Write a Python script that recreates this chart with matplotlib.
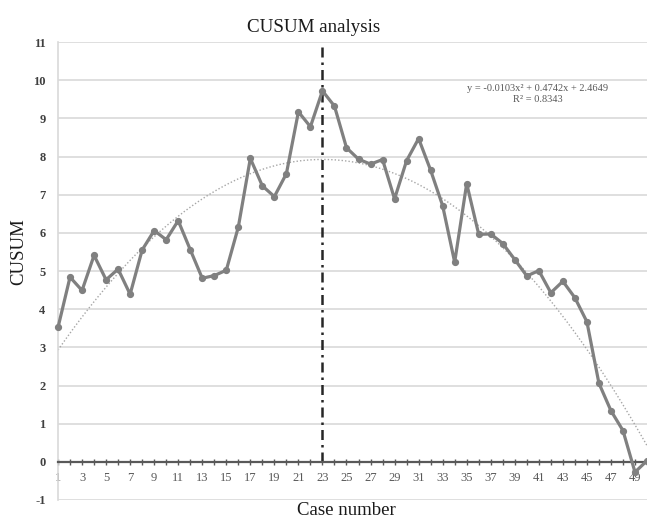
import matplotlib
matplotlib.use('Agg')
import matplotlib.pyplot as plt
import numpy as np

plt.rcParams['font.family'] = ['Liberation Serif', 'DejaVu Serif']
plt.rcParams['axes.unicode_minus'] = False

# CUSUM values for cases 1..50
cases = np.arange(1, 51)
cusum = [3.52, 4.84, 4.49, 5.41, 4.77, 5.05, 4.39, 5.55, 6.06, 5.82,
         6.32, 5.56, 4.81, 4.88, 5.02, 6.15, 7.95, 7.23, 6.95, 7.55,
         9.17, 8.78, 9.72, 9.32, 8.23, 7.93, 7.80, 7.92, 6.89, 7.89,
         8.47, 7.64, 6.71, 5.23, 7.29, 5.96, 5.97, 5.72, 5.30, 4.87,
         5.01, 4.43, 4.73, 4.30, 3.67, 2.06, 1.34, 0.82, -0.27, 0.03]

# polynomial trendline shown on the chart
trend_coef = [-0.0103, 0.4742, 2.4649]
trend_label = 'y = -0.0103x² + 0.4742x + 2.4649\nR² = 0.8343'
split_case = 23

fig = plt.figure(figsize=(6.47, 5.2), dpi=100)
ax = fig.add_axes([58 / 647, 1 - 500 / 520, 1 - 58 / 647, (500 - 42) / 520])

ax.set_xlim(1, 50)
ax.set_ylim(-1, 11)

# horizontal gridlines
ax.set_yticks(range(-1, 12))
ax.yaxis.grid(True, color='#d9d9d9', lw=1.2)
ax.set_axisbelow(True)

# trendline
xt = np.linspace(1, 50, 300)
ax.plot(xt, np.polyval(trend_coef, xt), ls=(0, (1, 1.5)), color='#a6a6a6', lw=1.0)

# vertical split line
ax.plot([split_case, split_case], [0, 11], color='#262626', lw=1.8,
        ls=(0, (4, 2, 1, 2)))

# CUSUM series
ax.plot(cases, cusum, color='#808080', lw=2.3, marker='o', ms=4.2,
        clip_on=False, zorder=5)

ax.text(40.9, 9.64, trend_label, ha='center', va='center', fontsize=7.5,
        color='#595959', multialignment='center')

# spines
for s in ['top', 'right']:
    ax.spines[s].set_visible(False)
ax.spines['left'].set_color('#d9d9d9')
ax.spines['left'].set_linewidth(1.2)
ax.spines['bottom'].set_position(('data', 0))
ax.spines['bottom'].set_color('#595959')
ax.spines['bottom'].set_linewidth(1.6)

ax.set_xticks(cases)
ax.set_xticklabels([str(c) if c % 2 == 1 and c < 50 else '' for c in cases])
ax.tick_params(axis='x', direction='inout', length=5, width=1.0,
               color='#595959', pad=5, labelsize=9, labelcolor='#595959')
ax.tick_params(axis='y', length=0, pad=9, labelsize=9, labelcolor='#404040')
for t in ax.get_yticklabels():
    t.set_fontweight('bold')

fig.text(314 / 647, 1 - 31.5 / 520, 'CUSUM analysis', ha='center',
         va='baseline', fontsize=13.7, color='#1a1a1a')
fig.text(346 / 647, 1 - 515 / 520, 'Case number', ha='center',
         va='baseline', fontsize=13.5, color='#1a1a1a')
fig.text(19 / 647, 1 - 251.5 / 520, 'CUSUM', ha='center', va='center',
         rotation=90, fontsize=13.5, color='#1a1a1a')

fig.savefig('out.png', dpi=100)
